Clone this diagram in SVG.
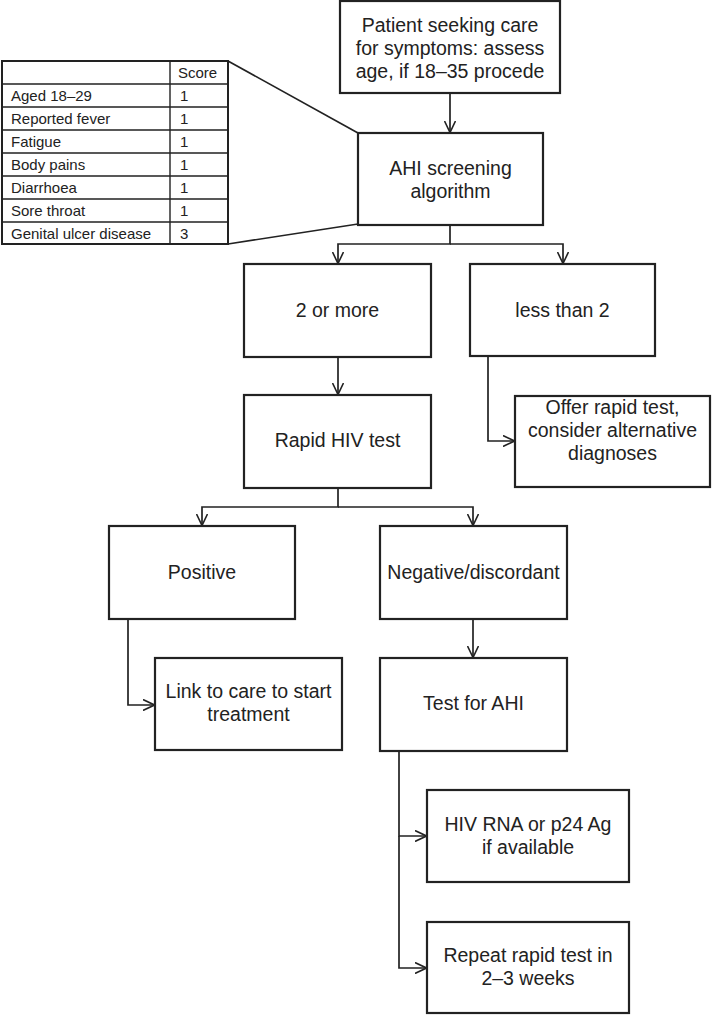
<svg xmlns="http://www.w3.org/2000/svg" width="712" height="1015" viewBox="0 0 712 1015">
<style>
.box{fill:#fff;stroke:#222;stroke-width:2.2}
.t{font-family:"Liberation Sans",Arial,sans-serif;font-size:19.5px;fill:#222;text-anchor:middle}
.tt{font-family:"Liberation Sans",Arial,sans-serif;font-size:15px;fill:#222}
.c{fill:none;stroke:#222;stroke-width:1.7}
.grid{fill:none;stroke:#222;stroke-width:1.4}
</style>
<defs>
<marker id="arr" viewBox="0 0 12 12" refX="12" refY="6" markerWidth="12" markerHeight="12" markerUnits="userSpaceOnUse" orient="auto">
<path d="M0,0.5 L11.5,6 L0,11.5" fill="none" stroke="#222" stroke-width="1.6"/>
</marker>
</defs>
<g id="connectors">
<path class="c" d="M450,93 V133" marker-end="url(#arr)"/>
<path class="c" d="M450,225 V244 H338 V264" marker-end="url(#arr)"/>
<path class="c" d="M450,244 H563 V264" marker-end="url(#arr)"/>
<path class="c" d="M338,357 V395" marker-end="url(#arr)"/>
<path class="c" d="M488,356 V441 H515" marker-end="url(#arr)"/>
<path class="c" d="M338,488 V507 H202 V526" marker-end="url(#arr)"/>
<path class="c" d="M338,507 H473 V526" marker-end="url(#arr)"/>
<path class="c" d="M128,619 V705 H155" marker-end="url(#arr)"/>
<path class="c" d="M473,619 V658" marker-end="url(#arr)"/>
<path class="c" d="M399,751 V836 H427" marker-end="url(#arr)"/>
<path class="c" d="M399,836 V968 H427" marker-end="url(#arr)"/>
<path class="c" d="M228,61 L358,133"/>
<path class="c" d="M228,244 L358,224"/>
</g>
<g id="score-table">
<rect x="2" y="61" width="226" height="183" fill="#fff" stroke="#222" stroke-width="2"/>
<path class="grid" d="M170,61 V244 M2,84 H228 M2,107 H228 M2,130 H228 M2,153 H228 M2,176 H228 M2,199 H228 M2,222 H228"/>
<text class="tt" x="178" y="78">Score</text>
<text class="tt" x="11" y="101">Aged 18–29</text><text class="tt" x="180" y="101">1</text>
<text class="tt" x="11" y="124">Reported fever</text><text class="tt" x="180" y="124">1</text>
<text class="tt" x="11" y="147">Fatigue</text><text class="tt" x="180" y="147">1</text>
<text class="tt" x="11" y="170">Body pains</text><text class="tt" x="180" y="170">1</text>
<text class="tt" x="11" y="193">Diarrhoea</text><text class="tt" x="180" y="193">1</text>
<text class="tt" x="11" y="216">Sore throat</text><text class="tt" x="180" y="216">1</text>
<text class="tt" x="11" y="239">Genital ulcer disease</text><text class="tt" x="180" y="239">3</text>
</g>
<g id="patient">
<rect class="box" x="340" y="1" width="220" height="92"/>
<text class="t" x="450" y="32">Patient seeking care</text>
<text class="t" x="450" y="55">for symptoms: assess</text>
<text class="t" x="450" y="78">age, if 18–35 procede</text>
</g>
<g id="ahi-screening">
<rect class="box" x="358" y="133" width="185" height="92"/>
<text class="t" x="450.5" y="175">AHI screening</text>
<text class="t" x="450.5" y="198">algorithm</text>
</g>
<g id="two-or-more">
<rect class="box" x="244" y="264" width="187" height="93"/>
<text class="t" x="337.5" y="317">2 or more</text>
</g>
<g id="less-than-2">
<rect class="box" x="470" y="264" width="185" height="92"/>
<text class="t" x="562.5" y="317">less than 2</text>
</g>
<g id="rapid-hiv">
<rect class="box" x="244" y="395" width="187" height="93"/>
<text class="t" x="337.5" y="447">Rapid HIV test</text>
</g>
<g id="offer-rapid">
<rect class="box" x="515" y="396" width="195" height="91"/>
<text class="t" x="612.5" y="414">Offer rapid test,</text>
<text class="t" x="612.5" y="437">consider alternative</text>
<text class="t" x="612.5" y="460">diagnoses</text>
</g>
<g id="positive">
<rect class="box" x="109" y="526" width="186" height="93"/>
<text class="t" x="202" y="579">Positive</text>
</g>
<g id="negative">
<rect class="box" x="380" y="526" width="187" height="93"/>
<text class="t" x="473.5" y="579">Negative/discordant</text>
</g>
<g id="link-care">
<rect class="box" x="155" y="658" width="187" height="92"/>
<text class="t" x="248.5" y="698">Link to care to start</text>
<text class="t" x="248.5" y="721">treatment</text>
</g>
<g id="test-ahi">
<rect class="box" x="380" y="658" width="187" height="93"/>
<text class="t" x="473.5" y="710">Test for AHI</text>
</g>
<g id="hiv-rna">
<rect class="box" x="427" y="790" width="202" height="92"/>
<text class="t" x="528" y="831">HIV RNA or p24 Ag</text>
<text class="t" x="528" y="854">if available</text>
</g>
<g id="repeat-rapid">
<rect class="box" x="427" y="922" width="202" height="91"/>
<text class="t" x="528" y="962">Repeat rapid test in</text>
<text class="t" x="528" y="985">2–3 weeks</text>
</g>
</svg>
